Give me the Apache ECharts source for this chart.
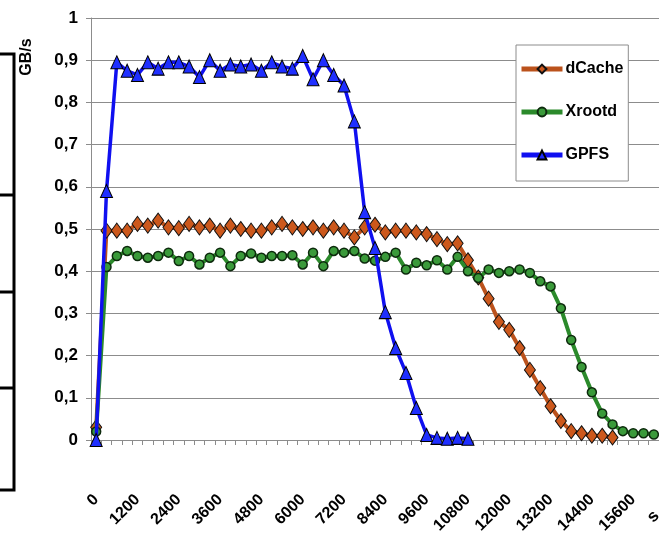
<!DOCTYPE html>
<html>
<head>
<meta charset="utf-8">
<script src="https://cdn.jsdelivr.net/npm/echarts@6/dist/echarts.min.js"></script>
<style>
  html, body { margin: 0; padding: 0; background: #fff; }
  #chart { width: 659px; height: 539px; }
</style>
</head>
<body>
<div id="chart"></div>
<script>
// seconds, one point every 300 s
const seconds = [
  0, 300, 600, 900, 1200, 1500, 1800, 2100, 2400, 2700,
  3000, 3300, 3600, 3900, 4200, 4500, 4800, 5100, 5400, 5700,
  6000, 6300, 6600, 6900, 7200, 7500, 7800, 8100, 8400, 8700,
  9000, 9300, 9600, 9900, 10200, 10500, 10800, 11100, 11400, 11700,
  12000, 12300, 12600, 12900, 13200, 13500, 13800, 14100, 14400, 14700,
  15000, 15300, 15600, 15900, 16200
];

const dCache = [
  0.03, 0.496, 0.496, 0.496, 0.512, 0.508, 0.52, 0.504, 0.502, 0.512,
  0.504, 0.508, 0.496, 0.508, 0.5, 0.496, 0.496, 0.504, 0.512, 0.504,
  0.5, 0.504, 0.496, 0.504, 0.496, 0.48, 0.504, 0.51, 0.492, 0.496,
  0.496, 0.492, 0.488, 0.476, 0.464, 0.466, 0.426, 0.385, 0.335, 0.28,
  0.261, 0.218, 0.166, 0.123, 0.08, 0.045, 0.021, 0.016, 0.01, 0.01,
  0.006
];

const xrootd = [
  0.02, 0.41, 0.436, 0.448, 0.436, 0.432, 0.436, 0.444, 0.424, 0.436,
  0.416, 0.432, 0.444, 0.412, 0.436, 0.442, 0.432, 0.436, 0.436, 0.438,
  0.416, 0.444, 0.412, 0.448, 0.444, 0.448, 0.43, 0.425, 0.434, 0.444,
  0.404, 0.42, 0.414, 0.426, 0.404, 0.434, 0.4, 0.384, 0.404, 0.396,
  0.4, 0.404, 0.396, 0.376, 0.364, 0.312, 0.237, 0.173, 0.113, 0.063,
  0.037, 0.021, 0.016, 0.016, 0.013
];

const gpfs = [
  0.0, 0.59, 0.895, 0.875, 0.865, 0.895, 0.88, 0.895, 0.895, 0.885,
  0.86, 0.9, 0.875, 0.89, 0.885, 0.89, 0.875, 0.895, 0.885, 0.88,
  0.91, 0.855, 0.9, 0.865, 0.84, 0.755, 0.54, 0.455, 0.303, 0.218,
  0.159, 0.076, 0.012, 0.005, 0.003, 0.005, 0.003
];

const labelFont = '"Liberation Sans", Arial, sans-serif';

const myChart = echarts.init(document.getElementById('chart'));

const option = {
  animation: false,
  backgroundColor: '#fff',
  grid: {
    left: 91,
    top: 18,
    bottom: 99,
    right: 0,
  },
  legend: {
    orient: 'vertical',
    left: 516,
    top: 45,
    padding: [16, 5, 18, 3],
    itemGap: 27,
    itemWidth: 41,
    itemHeight: 11,
    backgroundColor: '#fff',
    borderColor: '#8c8c8c',
    borderWidth: 1,
    lineStyle: { width: 5 },
    textStyle: {
      fontFamily: labelFont,
      fontWeight: 'bold',
      fontSize: 16,
      color: '#000',
      padding: [0, 0, 0, -2],
    },
    data: ['dCache', 'Xrootd', 'GPFS'],
  },
  xAxis: {
    type: 'category',
    data: seconds,
    boundaryGap: true,
    axisLine: { lineStyle: { color: '#8c8c8c', width: 1 } },
    axisTick: { show: true, interval: 0, length: 5, lineStyle: { color: '#8c8c8c' } },
    axisLabel: {
      interval: 3,
      rotate: 45,
      margin: 57,
      fontFamily: labelFont,
      fontWeight: 'bold',
      fontSize: 16,
      color: '#000',
    },
    splitLine: { show: false },
  },
  yAxis: {
    type: 'value',
    min: 0,
    max: 1,
    interval: 0.1,
    axisLine: { show: true, lineStyle: { color: '#8c8c8c', width: 1 } },
    axisTick: { show: true, length: 5, lineStyle: { color: '#8c8c8c' } },
    axisLabel: {
      margin: 13,
      fontFamily: labelFont,
      fontWeight: 'bold',
      fontSize: 17,
      color: '#000',
      formatter: v => (Math.round(v * 10) / 10).toString().replace('.', ','),
    },
    splitLine: { show: true, lineStyle: { color: '#8c8c8c', width: 1 } },
  },
  series: [
    {
      name: 'dCache',
      type: 'line',
      data: dCache,
      showAllSymbol: true,
      symbol: 'diamond',
      symbolSize: [11, 15],
      lineStyle: { color: '#bb521c', width: 4 },
      itemStyle: { color: '#cc581c', borderColor: '#111', borderWidth: 1 },
      z: 2,
    },
    {
      name: 'Xrootd',
      type: 'line',
      data: xrootd,
      showAllSymbol: true,
      symbol: 'circle',
      symbolSize: 9,
      lineStyle: { color: '#2b8a2b', width: 4 },
      itemStyle: { color: '#3a9a3a', borderColor: '#0d2a0d', borderWidth: 1.5 },
      z: 3,
    },
    {
      name: 'GPFS',
      type: 'line',
      data: gpfs,
      showAllSymbol: true,
      symbol: 'triangle',
      symbolSize: [12, 13],
      lineStyle: { color: '#1010f0', width: 3.5 },
      itemStyle: { color: '#1f2fff', borderColor: '#000', borderWidth: 1 },
      z: 4,
    },
  ],
  graphic: [
    {
      type: 'polyline',
      shape: { points: [[0, 54], [14, 54], [14, 490], [0, 490]] },
      style: { stroke: '#000', lineWidth: 3, fill: null },
    },
    { type: 'line', shape: { x1: 0, y1: 195, x2: 14, y2: 195 }, style: { stroke: '#000', lineWidth: 3 } },
    { type: 'line', shape: { x1: 0, y1: 292, x2: 14, y2: 292 }, style: { stroke: '#000', lineWidth: 3 } },
    { type: 'line', shape: { x1: 0, y1: 388, x2: 14, y2: 388 }, style: { stroke: '#000', lineWidth: 3 } },
    {
      type: 'text',
      x: 27,
      y: 57,
      rotation: Math.PI / 2,
      style: {
        text: 'GB/s',
        font: 'bold 16px ' + labelFont,
        fill: '#000',
        align: 'center',
        verticalAlign: 'middle',
      },
    },
    {
      type: 'text',
      x: 650,
      y: 520,
      rotation: Math.PI / 4,
      style: {
        text: 's',
        font: 'bold 17px ' + labelFont,
        fill: '#000',
        align: 'left',
        verticalAlign: 'middle',
      },
    },
  ],
};

myChart.setOption(option);
window.addEventListener('resize', myChart.resize);
</script>
</body>
</html>
